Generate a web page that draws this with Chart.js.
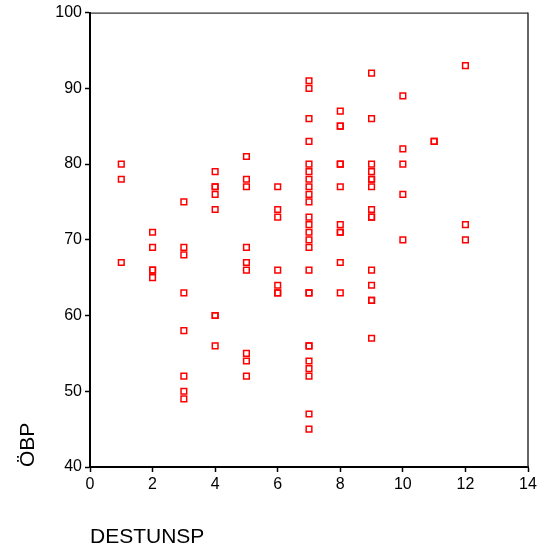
<!DOCTYPE html>
<html>
<head>
<meta charset="utf-8">
<script src="https://cdn.jsdelivr.net/npm/chart.js@4/dist/chart.umd.min.js"></script>
<style>
  html, body { margin: 0; padding: 0; background: #fff; }
  #wrap { width: 541px; height: 555px; position: relative; }
</style>
</head>
<body>
<div id="wrap"><canvas id="c" width="541" height="555"></canvas></div>
<script>
// ---- Data ----
const xTitle = 'DESTUNSP';
const yTitle = 'ÖBP';
const xTickValues = [0, 2, 4, 6, 8, 10, 12, 14];
const yTickValues = [40, 50, 60, 70, 80, 90, 100];

// Parallel arrays: DESTUNSP (x) and ÖBP (y) for each case
const destunsp = [
  1, 1, 1,
  2, 2, 2, 2, 2,
  3, 3, 3, 3, 3, 3, 3, 3,
  4, 4, 4, 4, 4, 4, 4, 4,
  5, 5, 5, 5, 5, 5, 5, 5, 5,
  6, 6, 6, 6, 6, 6, 6,
  7, 7, 7, 7, 7, 7, 7, 7, 7, 7, 7, 7, 7, 7, 7, 7, 7, 7, 7, 7, 7, 7, 7, 7, 7,
  8, 8, 8, 8, 8, 8, 8, 8, 8, 8, 8,
  9, 9, 9, 9, 9, 9, 9, 9, 9, 9, 9, 9, 9, 9, 9,
  10, 10, 10, 10, 10,
  11, 11,
  12, 12, 12
];
const obp = [
  80, 78, 67,
  71, 69, 66, 66, 65,
  75, 69, 68, 63, 58, 52, 50, 49,
  79, 77, 77, 76, 74, 60, 60, 56,
  81, 78, 77, 69, 67, 66, 55, 54, 52,
  77, 74, 73, 66, 64, 63, 63,
  91, 90, 86, 83, 80, 79, 78, 77, 76, 75, 73, 72, 71, 70, 69, 66, 63, 63, 56, 56, 54, 53, 52, 47, 45,
  87, 85, 85, 80, 80, 77, 72, 71, 71, 67, 63,
  92, 86, 80, 79, 78, 78, 77, 74, 73, 73, 66, 64, 62, 62, 57,
  89, 82, 80, 76, 70,
  83, 83,
  93, 72, 70
];

const points = destunsp.map((x, i) => ({ x: x, y: obp[i] }));

const FONT = '"Liberation Sans", Arial, sans-serif';

const framePlugin = {
  id: 'frame',
  afterDraw(chart) {
    const { ctx, chartArea: a } = chart;
    ctx.save();
    // top border
    ctx.strokeStyle = '#000';
    ctx.lineWidth = 1;
    ctx.beginPath();
    ctx.moveTo(a.left, a.top + 0.5);
    ctx.lineTo(a.right, a.top + 0.5);
    ctx.stroke();
    // right border
    ctx.strokeStyle = '#333';
    ctx.lineWidth = 1.5;
    ctx.beginPath();
    ctx.moveTo(a.right, a.top);
    ctx.lineTo(a.right, a.bottom);
    ctx.stroke();
    // axis titles
    ctx.fillStyle = '#000';
    ctx.font = '21px ' + FONT;
    ctx.textAlign = 'left';
    ctx.textBaseline = 'alphabetic';
    ctx.fillText(xTitle, a.left, 543);
    ctx.translate(33.5, 467);
    ctx.rotate(-Math.PI / 2);
    ctx.fillText(yTitle, 0, 0);
    ctx.restore();
  }
};

new Chart(document.getElementById('c'), {
  type: 'scatter',
  data: {
    datasets: [{
      data: points,
      pointStyle: 'rect',
      pointRadius: 4,
      pointBorderWidth: 1.5,
      borderColor: '#ff0000',
      backgroundColor: 'rgba(0,0,0,0)',
      pointBackgroundColor: 'rgba(0,0,0,0)',
      pointBorderColor: '#ff0000'
    }]
  },
  options: {
    responsive: false,
    animation: false,
    events: [],
    layout: { padding: { left: 0, top: 10, right: 13, bottom: 0 } },
    plugins: { legend: { display: false }, tooltip: { enabled: false } },
    scales: {
      x: {
        type: 'linear',
        min: 0, max: 14,
        afterFit(scale) { scale.height = 88; },
        afterBuildTicks(scale) { scale.ticks = xTickValues.map(v => ({ value: v })); },
        border: { display: true, color: '#000', width: 2 },
        grid: { drawOnChartArea: false, drawTicks: true, tickLength: 5, color: '#000', tickWidth: 1.5 },
        ticks: { color: '#000', font: { family: FONT, size: 16 }, padding: 3, maxRotation: 0, autoSkip: false }
      },
      y: {
        type: 'linear',
        min: 40, max: 100,
        afterFit(scale) { scale.width = 90; },
        afterBuildTicks(scale) { scale.ticks = yTickValues.map(v => ({ value: v })); },
        border: { display: true, color: '#000', width: 2 },
        grid: { drawOnChartArea: false, drawTicks: true, tickLength: 5, color: '#000', tickWidth: 1.5 },
        ticks: { color: '#000', font: { family: FONT, size: 16 }, padding: 3, autoSkip: false }
      }
    }
  },
  plugins: [framePlugin]
});
</script>
</body>
</html>
